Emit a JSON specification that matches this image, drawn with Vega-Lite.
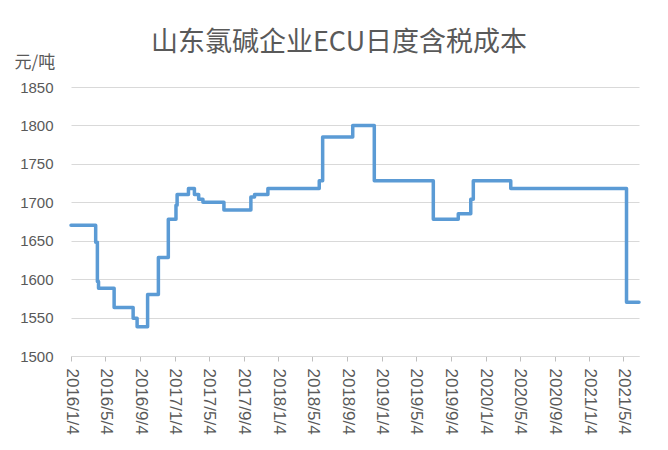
{
  "$schema": "https://vega.github.io/schema/vega-lite/v6.json",
  "width": 568,
  "height": 269,
  "autosize": {"type": "none"},
  "padding": {"left": 71, "top": 87, "right": 29, "bottom": 94},
  "background": "white",
  "title": {
    "text": "山东氯碱企业ECU日度含税成本",
    "font": "Noto Sans CJK SC",
    "fontSize": 27,
    "fontWeight": "normal",
    "color": "#595959",
    "anchor": "middle",
    "frame": "group",
    "dx": -16,
    "offset": -4
  },
  "config": {
    "view": {"stroke": null},
    "axis": {"labelColor": "#595959", "titleColor": "#595959"}
  },
  "data": {
    "values": [
      {"date": "2016-01-04T00:00:00", "cost": 1670},
      {"date": "2016-03-31T00:00:00", "cost": 1648},
      {"date": "2016-04-06T00:00:00", "cost": 1597},
      {"date": "2016-04-10T00:00:00", "cost": 1588},
      {"date": "2016-06-04T00:00:00", "cost": 1563},
      {"date": "2016-08-10T00:00:00", "cost": 1549},
      {"date": "2016-08-24T00:00:00", "cost": 1538},
      {"date": "2016-09-30T00:00:00", "cost": 1580},
      {"date": "2016-11-07T00:00:00", "cost": 1628},
      {"date": "2016-12-12T00:00:00", "cost": 1678},
      {"date": "2017-01-08T00:00:00", "cost": 1696},
      {"date": "2017-01-12T00:00:00", "cost": 1710},
      {"date": "2017-02-21T00:00:00", "cost": 1718},
      {"date": "2017-03-14T00:00:00", "cost": 1710},
      {"date": "2017-03-29T00:00:00", "cost": 1704},
      {"date": "2017-04-13T00:00:00", "cost": 1700},
      {"date": "2017-06-26T00:00:00", "cost": 1690},
      {"date": "2017-09-29T00:00:00", "cost": 1707},
      {"date": "2017-10-12T00:00:00", "cost": 1710},
      {"date": "2017-11-28T00:00:00", "cost": 1718},
      {"date": "2018-05-28T00:00:00", "cost": 1728},
      {"date": "2018-06-09T00:00:00", "cost": 1785},
      {"date": "2018-09-23T00:00:00", "cost": 1800},
      {"date": "2018-12-08T00:00:00", "cost": 1728},
      {"date": "2019-07-04T00:00:00", "cost": 1678},
      {"date": "2019-09-30T00:00:00", "cost": 1685},
      {"date": "2019-11-13T00:00:00", "cost": 1704},
      {"date": "2019-11-22T00:00:00", "cost": 1728},
      {"date": "2020-04-02T00:00:00", "cost": 1718},
      {"date": "2021-05-15T00:00:00", "cost": 1570},
      {"date": "2021-06-28T00:00:00", "cost": 1570}
    ]
  },
  "mark": {
    "type": "line",
    "interpolate": "step-after",
    "color": "#5B9BD5",
    "strokeWidth": 3.5,
    "strokeJoin": "round",
    "strokeCap": "round",
    "clip": false
  },
  "encoding": {
    "x": {
      "field": "date",
      "type": "temporal",
      "scale": {
        "domain": [
          {"year": 2016, "month": 1, "date": 4},
          {"year": 2021, "month": 6, "date": 28}
        ]
      },
      "axis": {
        "title": null,
        "values": [
          {"year": 2016, "month": 1, "date": 4},
          {"year": 2016, "month": 5, "date": 4},
          {"year": 2016, "month": 9, "date": 4},
          {"year": 2017, "month": 1, "date": 4},
          {"year": 2017, "month": 5, "date": 4},
          {"year": 2017, "month": 9, "date": 4},
          {"year": 2018, "month": 1, "date": 4},
          {"year": 2018, "month": 5, "date": 4},
          {"year": 2018, "month": 9, "date": 4},
          {"year": 2019, "month": 1, "date": 4},
          {"year": 2019, "month": 5, "date": 4},
          {"year": 2019, "month": 9, "date": 4},
          {"year": 2020, "month": 1, "date": 4},
          {"year": 2020, "month": 5, "date": 4},
          {"year": 2020, "month": 9, "date": 4},
          {"year": 2021, "month": 1, "date": 4},
          {"year": 2021, "month": 5, "date": 4}
        ],
        "format": "%Y/%-m/%-d",
        "labelAngle": 90,
        "labelAlign": "left",
        "labelBaseline": "middle",
        "labelFont": "Liberation Sans",
        "labelFontSize": 17,
        "labelPadding": 7,
        "labelOverlap": false,
        "labelFlush": false,
        "grid": false,
        "domain": true,
        "domainColor": "#D9D9D9",
        "domainWidth": 1,
        "ticks": true,
        "tickSize": 5,
        "tickColor": "#BFBFBF"
      }
    },
    "y": {
      "field": "cost",
      "type": "quantitative",
      "scale": {"domain": [1500, 1850], "zero": false, "nice": false},
      "axis": {
        "title": "元/吨",
        "titleFont": "Noto Sans CJK SC",
        "titleFontSize": 17,
        "titleFontWeight": "normal",
        "titleAngle": 0,
        "titleAlign": "left",
        "titleBaseline": "alphabetic",
        "titleX": -57,
        "titleY": -20,
        "values": [1500, 1550, 1600, 1650, 1700, 1750, 1800, 1850],
        "format": "d",
        "labelFont": "Liberation Sans",
        "labelFontSize": 15,
        "labelPadding": 18,
        "ticks": false,
        "domain": false,
        "grid": true,
        "gridColor": "#D9D9D9",
        "gridWidth": 1
      }
    }
  }
}
